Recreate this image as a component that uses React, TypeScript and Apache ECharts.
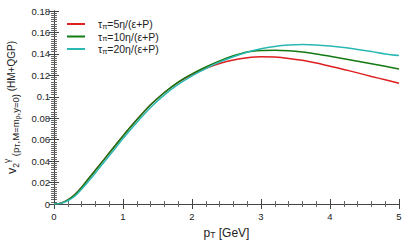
import React, { useEffect, useRef } from "react";
import * as echarts from "echarts";

const pT = [0, 0.1, 0.2, 0.3, 0.4, 0.5, 0.6, 0.7, 0.8, 0.9, 1.0, 1.2, 1.4, 1.6, 1.8, 2.0, 2.2, 2.4, 2.6, 2.8, 3.0, 3.2, 3.4, 3.6, 3.8, 4.0, 4.2, 4.4, 4.6, 4.8, 5.0];

const v2Tau5 = [0, 0.0008, 0.0038, 0.0085, 0.0155, 0.0235, 0.0315, 0.0395, 0.0475, 0.0555, 0.0635, 0.0785, 0.0925, 0.104, 0.1135, 0.1208, 0.1265, 0.131, 0.1343, 0.1364, 0.1374, 0.137, 0.1358, 0.134, 0.1315, 0.1285, 0.1255, 0.1223, 0.119, 0.1158, 0.1126];

const v2Tau10 = [0, 0.0008, 0.0038, 0.0085, 0.0155, 0.0235, 0.0315, 0.0395, 0.0475, 0.0555, 0.0635, 0.0785, 0.0925, 0.104, 0.1137, 0.1213, 0.1278, 0.1335, 0.1382, 0.1418, 0.1432, 0.1435, 0.143, 0.1418, 0.14, 0.1378, 0.1355, 0.1332, 0.1308, 0.1284, 0.126];

const v2Tau20 = [0, 0.0006, 0.003, 0.0072, 0.0138, 0.0212, 0.029, 0.037, 0.045, 0.053, 0.061, 0.076, 0.09, 0.1018, 0.1115, 0.1195, 0.1263, 0.1323, 0.1373, 0.1415, 0.1448, 0.147, 0.1483, 0.1488, 0.1484, 0.1474, 0.146, 0.1442, 0.1422, 0.14, 0.1385];

const seriesNames = ["τπ=5η/(ε+P)", "τπ=10η/(ε+P)", "τπ=20η/(ε+P)"];
const seriesLabels = ["=5η/(ε+P)", "=10η/(ε+P)", "=20η/(ε+P)"];
const seriesColors = ["#dd1f1f", "#137a13", "#2cb8b2"];

const FONT = "Liberation Sans, Arial, sans-serif";

export default function App() {
  const ref = useRef<HTMLDivElement>(null);
  useEffect(() => {
    document.body.style.margin = "0";
    const chart = echarts.init(ref.current!, null, { renderer: "svg" });
    const datasets = [v2Tau5, v2Tau10, v2Tau20];
    const axisLine = { show: true, lineStyle: { color: "#444", width: 1 } };
    const axisTick = { show: true, inside: true, length: 5, lineStyle: { color: "#444" } };
    const minorTickX = { show: true, splitNumber: 5, length: 3, lineStyle: { color: "#666" } };
    const minorTickY = { show: true, splitNumber: 10, length: 3, lineStyle: { color: "#666" } };
    chart.setOption({
      animation: false,
      textStyle: { fontFamily: FONT },
      grid: { left: 54, right: 13, top: 11, bottom: 43, outerBoundsMode: "none", containLabel: false },
      legend: {
        orient: "vertical",
        left: 62,
        top: 13,
        icon: "rect",
        itemWidth: 18,
        itemHeight: 2,
        itemGap: 0.5,
        data: seriesNames,
        formatter: (name: string) => {
          const i = seriesNames.indexOf(name);
          return "{a|τ}{s|π}{b|" + seriesLabels[i] + "}";
        },
        textStyle: {
          color: "#222",
          fontFamily: FONT,
          rich: {
            a: { fontSize: 10.5, color: "#222", padding: [0, 0, 0, 8], lineHeight: 12 },
            s: { fontSize: 7.5, color: "#222", verticalAlign: "bottom", lineHeight: 12, padding: [4, 0, 0, 0] },
            b: { fontSize: 10.5, color: "#222", lineHeight: 12 },
          },
        },
      },
      xAxis: [
        {
          type: "value",
          min: 0,
          max: 5,
          interval: 1,
          axisLine,
          axisTick,
          minorTick: minorTickX,
          splitLine: { show: false },
          axisLabel: { color: "#222", fontSize: 9.5, margin: 7, fontFamily: FONT },
          name: "{p|p}{t|T}{p| [GeV]}",
          nameLocation: "middle",
          nameGap: 20,
          nameTextStyle: {
            rich: {
              p: { fontSize: 12, color: "#222", fontFamily: FONT, lineHeight: 14 },
              t: { fontSize: 8.5, color: "#222", fontFamily: FONT, verticalAlign: "bottom", lineHeight: 14, padding: [5, 0, 0, 0] },
            },
          },
        },
        {
          type: "value",
          position: "top",
          min: 0,
          max: 5,
          interval: 1,
          axisLine,
          axisTick,
          minorTick: minorTickX,
          splitLine: { show: false },
          axisLabel: { show: false },
        },
      ],
      yAxis: [
        {
          type: "value",
          min: 0,
          max: 0.18,
          interval: 0.02,
          axisLine,
          axisTick,
          minorTick: minorTickY,
          splitLine: { show: false },
          axisLabel: { color: "#222", fontSize: 9.5, margin: 4, fontFamily: FONT },
          name: "{v|v}{d|2}{u|γ}{s| (p}{ss|T}{s|,M=m}{ss|ρ}{s|,y=0)}{n| (HM+QGP)}",
          nameLocation: "middle",
          nameRotate: 90,
          nameGap: 29,
          nameTextStyle: {
            rich: {
              v: { fontSize: 12.5, color: "#222", fontFamily: FONT, lineHeight: 18 },
              d: { fontSize: 8.5, color: "#222", fontFamily: FONT, verticalAlign: "bottom", lineHeight: 18, padding: [6, 0, 0, 0] },
              u: { fontSize: 8.5, color: "#222", fontFamily: FONT, verticalAlign: "top", lineHeight: 18 },
              s: { fontSize: 9.5, color: "#222", fontFamily: FONT, verticalAlign: "bottom", lineHeight: 18, padding: [3, 0, 0, 0] },
              ss: { fontSize: 7, color: "#222", fontFamily: FONT, verticalAlign: "bottom", lineHeight: 18, padding: [6, 0, 0, 0] },
              n: { fontSize: 10, color: "#222", fontFamily: FONT, lineHeight: 18 },
            },
          },
        },
        {
          type: "value",
          position: "right",
          min: 0,
          max: 0.18,
          interval: 0.02,
          axisLine,
          axisTick,
          minorTick: minorTickY,
          splitLine: { show: false },
          axisLabel: { show: false },
        },
      ],
      series: datasets.map((d, i) => ({
        name: seriesNames[i],
        type: "line",
        smooth: 0.3,
        symbol: "none",
        xAxisIndex: 0,
        yAxisIndex: 0,
        data: pT.map((x, j) => [x, d[j]]),
        lineStyle: { color: seriesColors[i], width: 1.5 },
        itemStyle: { color: seriesColors[i] },
      })),
    });
    return () => chart.dispose();
  }, []);
  return <div ref={ref} style={{ width: 412, height: 247 }} />;
}
